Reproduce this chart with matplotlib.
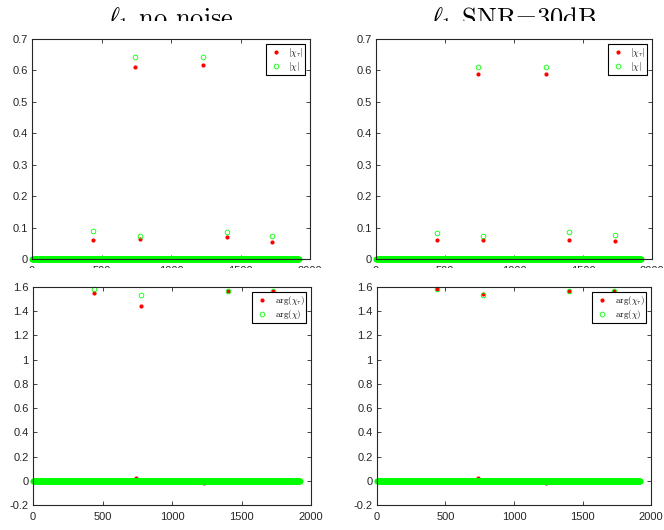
import matplotlib
matplotlib.use('Agg')
import matplotlib.pyplot as plt
import numpy as np
from matplotlib.patches import Rectangle

plt.rcParams['mathtext.fontset'] = 'cm'
plt.rcParams['font.family'] = ['Liberation Sans', 'DejaVu Sans']

n_points = 1920
idx = np.arange(1, n_points + 1)

# nonzero entries of the sparse vectors (index, value)
peak_idx = [440, 740, 775, 1230, 1400, 1730]

mag_tau_clean = [0.060, 0.610, 0.063, 0.617, 0.070, 0.055]
mag_true_clean = [0.088, 0.642, 0.072, 0.642, 0.085, 0.073]
mag_tau_noisy = [0.062, 0.588, 0.060, 0.590, 0.060, 0.058]
mag_true_noisy = [0.083, 0.612, 0.072, 0.612, 0.085, 0.075]

arg_tau_clean = [1.55, 0.02, 1.44, -0.02, 1.57, 1.57]
arg_true_clean = [1.58, 0.0, 1.53, 0.0, 1.57, 1.57]
arg_tau_noisy = [1.58, 0.02, 1.54, -0.02, 1.57, 1.57]
arg_true_noisy = [1.58, 0.0, 1.53, 0.0, 1.57, 1.57]

titles = [r'$\ell_1$ no noise', r'$\ell_1$ SNR=30dB']


def sparse(vals):
    a = np.zeros(n_points)
    a[np.array(peak_idx) - 1] = vals
    return a


W, H = 664, 530
fig = plt.figure(figsize=(W / 100, H / 100), dpi=100)


def px_axes(x0, y0, x1, y1):
    return fig.add_axes([x0 / W, 1 - y1 / H, (x1 - x0) / W, (y1 - y0) / H])


axc = '#262626'


def style(ax, ylim, yticks):
    ax.set_xlim(0, 2000)
    ax.set_xticks([0, 500, 1000, 1500, 2000])
    ax.set_ylim(*ylim)
    ax.set_yticks(yticks)
    ax.set_yticklabels(['%g' % round(v, 1) for v in yticks])
    ax.tick_params(direction='in', top=True, right=True, length=3, width=0.6,
                   colors=axc, labelsize=8)
    ax.tick_params(axis='x', pad=5)
    ax.tick_params(axis='y', pad=3)
    for s in ax.spines.values():
        s.set_color(axc)
        s.set_linewidth(0.8)


def draw(ax, red, green, lab_r, lab_g):
    ax.plot(idx, red, 'o', color=(1, 0, 0), ms=3, mew=0, ls='none',
            clip_on=False, label=lab_r)
    ax.plot(idx, green, 'o', mfc='none', mec=(0, 1, 0), ms=3.4, mew=0.6,
            ls='none', clip_on=False, label=lab_g)
    leg = ax.legend(loc='upper right', fontsize=6.5, fancybox=False,
                    edgecolor='black', framealpha=1, borderpad=0.25,
                    handlelength=1.6, labelspacing=0.1, borderaxespad=0.5,
                    handletextpad=0.6)
    leg.get_frame().set_linewidth(0.8)
    leg.set_zorder(10)


# titles (cut off by the panel below them)
for cx, t in zip([171, 514], titles):
    fig.text(cx / W, 1 - 27 / H, t, ha='center', va='baseline', fontsize=19,
             family='cmr10', zorder=0)
fig.add_artist(Rectangle((0, 1 - 36 / H), 1, 15 / H, transform=fig.transFigure,
                         facecolor='white', edgecolor='none', zorder=1))

ax1 = px_axes(32, 39, 310, 259)
ax2 = px_axes(376, 39, 652, 259)
for ax, r, g in [(ax1, mag_tau_clean, mag_true_clean),
                 (ax2, mag_tau_noisy, mag_true_noisy)]:
    style(ax, (0, 0.7), np.arange(0, 0.71, 0.1))
    draw(ax, sparse(r), sparse(g), r'$|\chi_\tau|$', r'$|\chi|$')
    ax.set_zorder(2)

# the lower panels hide most of the upper x tick labels
fig.add_artist(Rectangle((0, 1 - 286 / H), 1, 18 / H, transform=fig.transFigure,
                         facecolor='white', edgecolor='none', zorder=3))

ax3 = px_axes(33, 287, 311, 505)
ax4 = px_axes(377, 287, 651, 505)
for ax, r, g in [(ax3, arg_tau_clean, arg_true_clean),
                 (ax4, arg_tau_noisy, arg_true_noisy)]:
    style(ax, (-0.2, 1.6), np.arange(-0.2, 1.61, 0.2))
    draw(ax, sparse(r), sparse(g), r'$\arg(\chi_\tau)$', r'$\arg(\chi)$')
    ax.set_zorder(4)

fig.savefig('out.png', dpi=100)
